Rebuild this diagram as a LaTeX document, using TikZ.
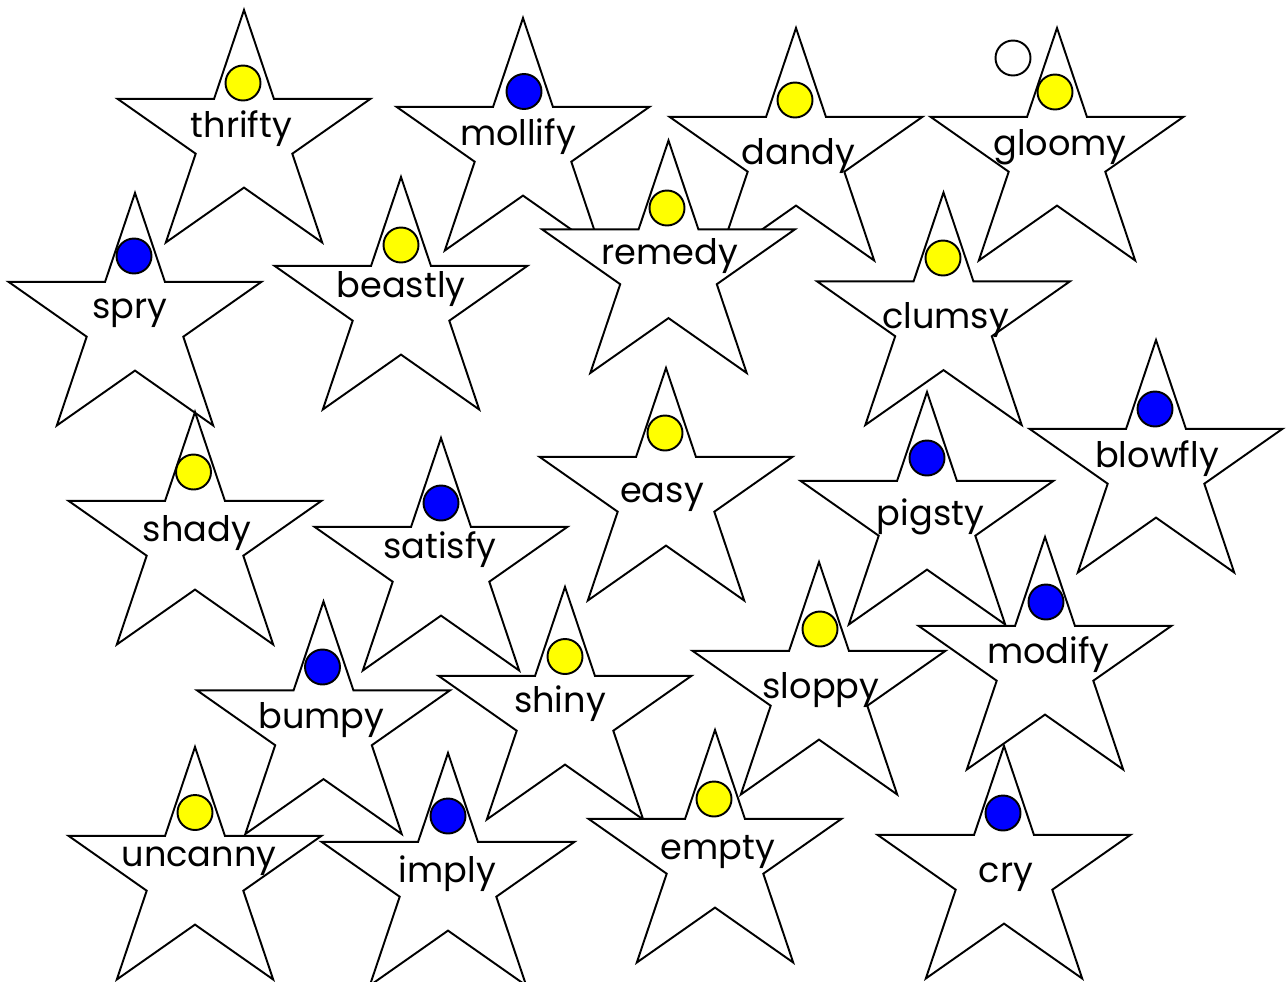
\documentclass[tikz,border=0pt]{standalone}
\usepackage{fontspec}
\setmainfont{Poppins}
\definecolor{dotyellow}{RGB}{255,255,0}
\definecolor{dotblue}{RGB}{0,0,255}
\tikzset{
  starline/.style={draw=black, fill=white, line width=1.1pt, line join=miter},
  dot/.style={circle, draw=black, line width=1.1pt, minimum size=0.7cm, inner sep=0pt},
  word/.style={inner sep=0pt, font=\fontsize{20}{22}\selectfont, text=black, anchor=base}
}
% #1 name, #2 apex x, #3 apex y, #4 dot colour, #5 dot x, #6 dot y, #7 word, #8 word x, #9 word baseline
\newcommand\wordstar[9]{%
  \begin{scope}[shift={(#2,#3+128.5)}]
    \path[starline] (0,-128.5) -- (29.9,-39.7) -- (126.5,-39.7) -- (48.3,15.2)
      -- (78.2,104) -- (0,49.1) -- (-78.2,104) -- (-48.3,15.2)
      -- (-126.5,-39.7) -- (-29.9,-39.7) -- cycle;
  \end{scope}
  \node[dot, fill=#4] (#1-dot) at (#5,#6) {};
  \node[word] (#1) at (#8,#9) {#7};
}
\begin{document}
\begin{tikzpicture}[x=0.02cm, y=-0.02cm]
\useasboundingbox (0,0) rectangle (1287,981);
\fill[white] (0,0) rectangle (1287,981);
\wordstar{thrifty}{244}{10}{dotyellow}{243}{83}{thrifty}{241.5}{137}
\wordstar{mollify}{523}{18}{dotblue}{524}{91.5}{mollify}{518}{145}
\wordstar{gloomy}{1057}{28}{dotyellow}{1055}{92}{gloomy}{1060}{155}
\node[dot, fill=white] (ring) at (1013,58) {};
\wordstar{dandy}{796}{28}{dotyellow}{795}{100}{dandy}{798.5}{164}
\wordstar{remedy}{668.5}{140.5}{dotyellow}{667}{208}{remedy}{670}{264}
\wordstar{beastly}{401}{177}{dotyellow}{401}{245}{beastly}{401}{297}
\wordstar{spry}{135}{193}{dotblue}{134}{256}{spry}{130}{318}
\wordstar{clumsy}{943.5}{192.5}{dotyellow}{943}{258}{clumsy}{945.5}{328}
\wordstar{blowfly}{1156}{340}{dotblue}{1155}{409}{blowfly}{1157}{467}
\wordstar{easy}{666}{368}{dotyellow}{665}{433}{easy}{662}{502}
\wordstar{pigsty}{927}{392}{dotblue}{927}{458}{pigsty}{930.5}{525}
\wordstar{shady}{195}{412}{dotyellow}{193.5}{472}{shady}{197}{541}
\wordstar{satisfy}{441}{438}{dotblue}{441}{503}{satisfy}{440}{558}
\wordstar{modify}{1045}{537}{dotblue}{1046}{602}{modify}{1048.5}{663}
\wordstar{sloppy}{819}{562}{dotyellow}{820}{629}{sloppy}{821}{698}
\wordstar{shiny}{565}{587}{dotyellow}{565}{656.5}{shiny}{560}{712}
\wordstar{bumpy}{323.5}{601.5}{dotblue}{322.5}{667}{bumpy}{321.5}{728}
\wordstar{empty}{715}{730}{dotyellow}{714}{799}{empty}{718}{859}
\wordstar{uncanny}{195}{747}{dotyellow}{195}{812.5}{uncanny}{199}{866}
\wordstar{cry}{1004}{746}{dotblue}{1003}{813}{cry}{1006}{882}
\wordstar{imply}{448}{753}{dotblue}{448}{816}{imply}{447.5}{882}
\end{tikzpicture}
\end{document}
